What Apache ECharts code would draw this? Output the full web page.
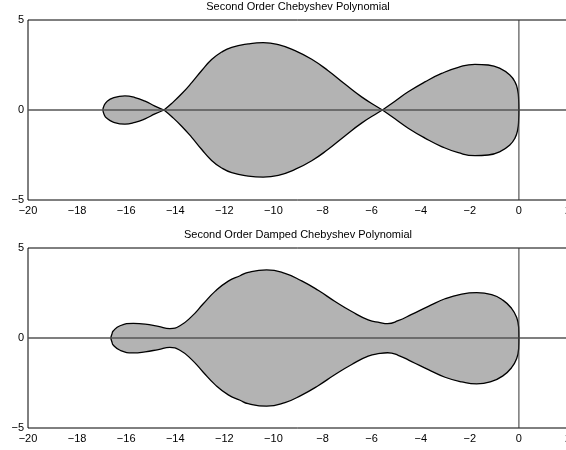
<!DOCTYPE html>
<html>
<head>
<meta charset="utf-8">
<script src="https://cdn.jsdelivr.net/npm/echarts@6/dist/echarts.min.js"></script>
<style>
  html, body { margin: 0; padding: 0; background: #fff; }
  #chart { width: 566px; height: 450px; }
</style>
</head>
<body>
<div id="chart"></div>
<script>
// Stability region boundaries in the complex plane (Re on x, Im on y).

// ---- Second order Chebyshev polynomial: three lobes touching on the real axis ----
const lobeA_x     = [-16.95, -16.90, -16.80, -16.53, -16.05, -15.64, -15.23, -14.83, -14.46];
const lobeA_upper = [0, 0.25, 0.45, 0.67, 0.78, 0.69, 0.49, 0.22, 0];
const lobeA_lower = [0, -0.25, -0.45, -0.67, -0.79, -0.69, -0.49, -0.22, 0];

const lobeB_x     = [-14.46, -14.15, -13.74, -13.33, -12.93, -12.52, -12.11, -11.70, -11.03, -10.42, -9.80, -9.12, -8.44, -7.77, -7.09, -6.41, -5.73, -5.56];
const lobeB_upper = [0, 0.36, 0.90, 1.52, 2.18, 2.80, 3.22, 3.48, 3.67, 3.74, 3.63, 3.30, 2.82, 2.18, 1.44, 0.73, 0.14, 0];
const lobeB_lower = [0, -0.36, -0.90, -1.52, -2.18, -2.80, -3.22, -3.48, -3.67, -3.73, -3.63, -3.30, -2.82, -2.18, -1.44, -0.73, -0.14, 0];

const lobeC_x     = [-5.56, -5.05, -4.51, -3.83, -3.15, -2.47, -1.79, -1.25, -0.77, -0.37, -0.16, -0.05, -0.01, 0];
const lobeC_upper = [0, 0.49, 1.01, 1.56, 2.03, 2.37, 2.54, 2.50, 2.31, 1.94, 1.56, 1.10, 0.54, 0];
const lobeC_lower = [0, -0.49, -1.01, -1.56, -2.03, -2.37, -2.54, -2.50, -2.31, -1.94, -1.56, -1.10, -0.54, 0];

// ---- Second order damped Chebyshev polynomial: one connected region ----
const damped_x     = [-16.63, -16.58, -16.53, -16.25, -15.71, -15.23, -14.69, -14.22, -13.81, -13.33, -12.86, -12.38, -11.84, -11.36, -11.03, -10.28, -9.53, -8.85, -8.18, -7.49, -6.81, -6.14, -5.66, -5.35, -4.92, -4.37, -3.69, -3.01, -2.33, -1.72, -1.11, -0.64, -0.30, -0.09, -0.01, 0];
const damped_upper = [0, 0.22, 0.39, 0.68, 0.81, 0.77, 0.64, 0.52, 0.68, 1.20, 1.90, 2.59, 3.16, 3.46, 3.65, 3.78, 3.59, 3.17, 2.65, 2.03, 1.47, 1.01, 0.86, 0.80, 0.96, 1.31, 1.76, 2.18, 2.44, 2.52, 2.41, 2.09, 1.65, 1.14, 0.58, 0];
const damped_lower = [0, -0.22, -0.39, -0.68, -0.83, -0.77, -0.64, -0.52, -0.68, -1.20, -1.90, -2.59, -3.16, -3.46, -3.65, -3.79, -3.59, -3.17, -2.65, -2.03, -1.47, -1.01, -0.86, -0.82, -0.96, -1.31, -1.76, -2.18, -2.44, -2.55, -2.41, -2.09, -1.65, -1.14, -0.58, 0];

// Axis ticks
const xTicks = { min: -20, max: 2, interval: 2 };
const yTicks = { min: -5, max: 5, interval: 5 };

const titles = ['Second Order Chebyshev Polynomial', 'Second Order Damped Chebyshev Polynomial'];

const FONT = '"Liberation Sans", Arial, Helvetica, sans-serif';
const FILL = '#b3b3b3';

const pairs = (xs, ys) => xs.map((x, i) => [x, ys[i]]);
const minus = v => (v < 0 ? '\u2212' + Math.abs(v) : String(v));

function boundary(idx, xs, ys) {
  return {
    type: 'line',
    xAxisIndex: idx,
    yAxisIndex: idx,
    data: pairs(xs, ys),
    smooth: 0.5,
    symbol: 'none',
    lineStyle: { color: '#000', width: 1.3 },
    areaStyle: { color: FILL, opacity: 1, origin: 0 },
    z: 2,
    silent: true
  };
}

function refLine(idx, data, color, width) {
  return {
    type: 'line',
    xAxisIndex: idx,
    yAxisIndex: idx,
    data: data,
    symbol: 'none',
    lineStyle: { color: color, width: width },
    z: 4,
    silent: true
  };
}

const grids = [
  { left: 28, top: 20, width: 540, height: 180 },
  { left: 28, top: 248, width: 540, height: 180 }
].map(g => Object.assign(g, {
  show: true, borderColor: '#000', borderWidth: 1, backgroundColor: '#fff', z: 0,
  containLabel: false, outerBoundsMode: 'none'
}));

function xAxis(idx) {
  return {
    type: 'value', gridIndex: idx,
    min: xTicks.min, max: xTicks.max, interval: xTicks.interval,
    axisLine: { show: false }, axisTick: { show: false }, splitLine: { show: false },
    axisLabel: { formatter: minus, color: '#000', fontSize: 11, fontFamily: FONT, margin: 5, showMinLabel: true, showMaxLabel: true, hideOverlap: false }
  };
}
function yAxis(idx) {
  return {
    type: 'value', gridIndex: idx,
    min: yTicks.min, max: yTicks.max, interval: yTicks.interval,
    axisLine: { show: false }, axisTick: { show: false }, splitLine: { show: false },
    axisLabel: { formatter: minus, color: '#000', fontSize: 11, fontFamily: FONT, margin: 4 }
  };
}

const chart = echarts.init(document.getElementById('chart'), null, { renderer: 'canvas' });
chart.setOption({
  backgroundColor: '#fff',
  animation: false,
  title: titles.map((t, i) => ({
    text: t, left: 298, top: i === 0 ? 1 : 229, textAlign: 'center', padding: 0,
    textStyle: { fontSize: 11, fontWeight: 'normal', color: '#000', fontFamily: FONT, lineHeight: 12 }
  })),
  grid: grids,
  xAxis: [xAxis(0), xAxis(1)],
  yAxis: [yAxis(0), yAxis(1)],
  series: [
    boundary(0, lobeA_x, lobeA_upper),
    boundary(0, lobeA_x, lobeA_lower),
    boundary(0, lobeB_x, lobeB_upper),
    boundary(0, lobeB_x, lobeB_lower),
    boundary(0, lobeC_x, lobeC_upper),
    boundary(0, lobeC_x, lobeC_lower),
    boundary(1, damped_x, damped_upper),
    boundary(1, damped_x, damped_lower),
    refLine(0, [[xTicks.min, 0], [xTicks.max, 0]], '#555', 1.5),
    refLine(0, [[0, yTicks.min], [0, yTicks.max]], '#333', 1),
    refLine(1, [[xTicks.min, 0], [xTicks.max, 0]], '#555', 1.5),
    refLine(1, [[0, yTicks.min], [0, yTicks.max]], '#333', 1)
  ]
});
</script>
</body>
</html>
